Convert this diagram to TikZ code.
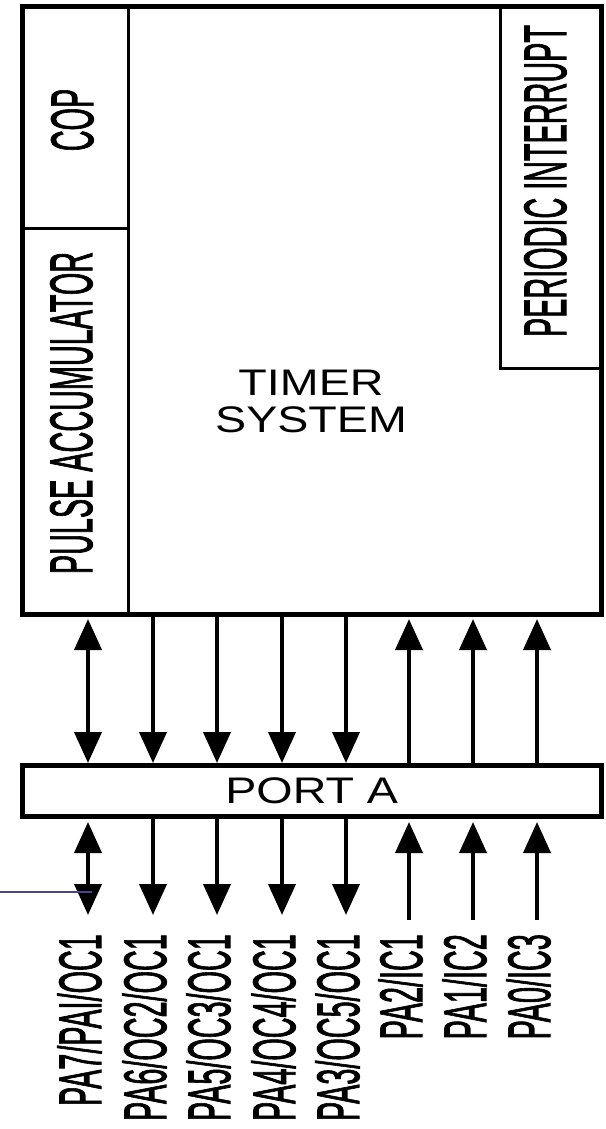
\documentclass[tikz,border=0pt]{standalone}
\usepackage{fontspec}
\setmainfont{Liberation Sans}
\newfontfamily\pinfont{Liberation Sans}[FakeBold=2]
\usepackage{graphicx}
\usepackage{tikz}
\usetikzlibrary{arrows.meta,positioning}
\definecolor{probeblue}{RGB}{70,70,140}
\newcommand{\squeezed}[1]{\scalebox{0.48}[1]{#1}}
\newcommand{\stretched}[1]{\scalebox{1.26}[1]{#1}}

\begin{document}
\begin{tikzpicture}[
        x=1pt,
        y=-1pt,
        >={Triangle[width=27pt,length=31pt]},
        blockframe/.style={draw, line width=5pt, inner sep=0pt, outer sep=0pt, anchor=north west},
        subblock/.style={draw, line width=3pt, inner sep=0pt, outer sep=0pt, anchor=north west},
        sig/.style={line width=4pt},
        vlab/.style={rotate=90, inner sep=0pt, font=\pinfont\fontsize{60}{60}\selectfont},
        hlab/.style={inner sep=0pt, align=center, font=\fontsize{37}{37}\selectfont},
        probeline/.style={line width=1.5pt, draw=probeblue}
    ]
        \useasboundingbox (0,0) rectangle (605,1129);

        % timer system
        \node[subblock, minimum width=105.5pt, minimum height=221.5pt] (cop) at (22.5,6.5) {};
        \node[subblock, minimum width=105.5pt, minimum height=386pt] (pulse) at (22.5,228) {};
        \node[subblock, minimum width=101pt, minimum height=361.5pt] (periodic) at (500,6.5) {};
        \node[blockframe, minimum width=578.5pt, minimum height=607.5pt] (timer) at (22.5,6.5) {};

        \node[vlab, anchor=base] (coplab) at (93,120) {\squeezed{COP}};
        \node[vlab, anchor=base] (pulselab) at (92,413) {\squeezed{PULSE ACCUMULATOR}};
        \node[vlab, anchor=base] (periodiclab) at (566,181) {\squeezed{PERIODIC INTERRUPT}};
        \node[hlab] (timerlab) at (311,401) {\stretched{TIMER}\\\stretched{SYSTEM}};

        % port a
        \node[blockframe, minimum width=578.5pt, minimum height=51pt, font=\fontsize{37}{37}\selectfont] (porta) at (22.5,765) {\stretched{PORT A}};

        \coordinate (outrow) at (0,915);
        \coordinate (inrow) at (0,920);
        \foreach \x/\lab [count=\i] in {88/{PA7/PAI/OC1},153/{PA6/OC2/OC1},217/{PA5/OC3/OC1},282/{PA4/OC4/OC1},
                346/{PA3/OC5/OC1},409/{PA2/IC1},473/{PA1/IC2},537/{PA0/IC3}}{
            \coordinate (c\i) at (\x,0);
            \node[vlab, anchor=base east] (pin\i) at (\x+13,934) {\squeezed{\lab}};
        }

        \draw[sig, <->, shorten <=5pt, shorten >=2pt] (timer.south -| c1) -- (porta.north -| c1);
        \draw[sig, <->, shorten <=6pt] (porta.south -| c1) -- (c1 |- outrow);
        \foreach \i in {2,...,5}{
            \draw[sig, ->, shorten >=2pt] (timer.south -| c\i) -- (porta.north -| c\i);
            \draw[sig, ->] (porta.south -| c\i) -- (c\i |- outrow);
        }
        \foreach \i in {6,7,8}{
            \draw[sig, ->, shorten >=5pt] (porta.north -| c\i) -- (timer.south -| c\i);
            \draw[sig, ->, shorten >=6pt] (c\i |- inrow) -- (porta.south -| c\i);
        }

        \coordinate (probe) at (0,892);
        \coordinate (probeend) at (92,892);
        \draw[probeline] (probe) -- (probeend);
    \end{tikzpicture}
\end{document}
